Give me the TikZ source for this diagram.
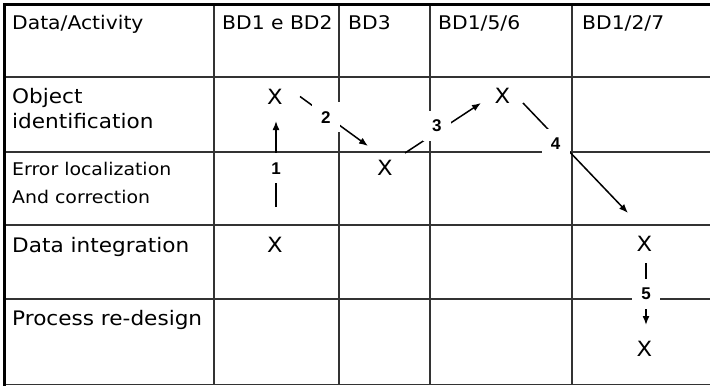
\documentclass[tikz,border=0pt]{standalone}
\usepackage{fontspec}
\setmainfont[FakeStretch=1.08]{DejaVu Sans}
\newfontfamily\numfont{Liberation Sans}
\usetikzlibrary{calc,arrows.meta}

\begin{document}
\begin{tikzpicture}[x=1pt,y=-1pt,
        heading/.style=
            {
                anchor = base west,
                inner sep = 0pt,
                font = \fontsize{20}{24}\selectfont
            },
        colhead/.style=
            {
                heading,
                font = \fontsize{18.8}{22}\selectfont
            },
        rowsmall/.style=
            {
                heading,
                font = \fontsize{17.5}{21}\selectfont
            },
        hit/.style=
            {
                inner sep = 0pt,
                font = \fontsize{21}{25}\selectfont
            },
        stepno/.style=
            {
                fill = white,
                inner sep = 0pt,
                minimum width = 28pt,
                minimum height = 30pt,
                font = \numfont\bfseries\fontsize{17}{20}\selectfont
            },
        tabline/.style=
            {
                draw = black!80,
                line width = 1.3pt
            },
        flow/.style=
            {
                draw = black,
                line width = 1.5pt,
                -{Latex[length=9pt,width=7pt]}
            }
    ]

    \useasboundingbox (0,0) rectangle (710,386);

    \foreach \y in {77,152,225,299}
        \draw[tabline] (4.5,\y) -- (710,\y);
    \foreach \x in {214,339,430,572}
        \draw[tabline] (\x,4.5) -- (\x,384.5);
    \draw[tabline, line width=1.8pt] (4.5,384.5) -- (710,384.5);
    \draw[line width=3pt] (710,4.5) -- (4.5,4.5) -- (4.5,386);

    \draw (12,29) node[colhead] (hdata) {Data/Activity};
    \draw (222,29) node[colhead] (hbd12) {BD1 e BD2};
    \draw (348,29) node[colhead] (hbd3) {BD3};
    \draw (438,29) node[colhead] (hbd156) {BD1/5/6};
    \draw (582,29) node[colhead] (hbd127) {BD1/2/7};

    \draw (12,103) node[heading] (robj) {Object};
    \draw (12,128) node[heading] (robjb) {identification};
    \draw (12,175) node[rowsmall] (rerr) {Error localization};
    \draw (12,203) node[rowsmall] (rerrb) {And correction};
    \draw (12,252) node[heading] (rint) {Data integration};
    \draw (12,325) node[heading] (rproc) {Process re-design};

    \draw (275,96.5) node[hit] (obj12) {X};
    \draw (385,168) node[hit] (err3) {X};
    \draw (502.5,95.5) node[hit] (obj156) {X};
    \draw (275,245) node[hit] (int12) {X};
    \draw (644.5,243.5) node[hit] (int127) {X};
    \draw (644.5,348.5) node[hit] (proc127) {X};

    \draw[flow] ($(int12)+(1,-38)$) -- node[stepno, pos=0.45] (s1) {1} ($(obj12)+(1,24.5)$);
    \draw[flow] ($(obj12)+(25,0)$) -- node[stepno, pos=0.38, yshift=-2pt] (s2) {2} ($(err3)+(-17,-22)$);
    \draw[flow] ($(err3)+(20,-15)$) -- node[stepno, pos=0.42, yshift=6pt] (s3) {3} ($(obj156)+(-21.5,7.5)$);
    \draw[flow] ($(obj156)+(20.5,7.5)$) -- node[stepno, pos=0.31, yshift=-7pt] (s4) {4} ($(int127)+(-16.5,-30.5)$);
    \draw[flow] ($(int127)+(1.5,19.5)$) -- node[stepno, pos=0.5] (s5) {5} ($(proc127)+(1.5,-23.5)$);

\end{tikzpicture}
\end{document}
